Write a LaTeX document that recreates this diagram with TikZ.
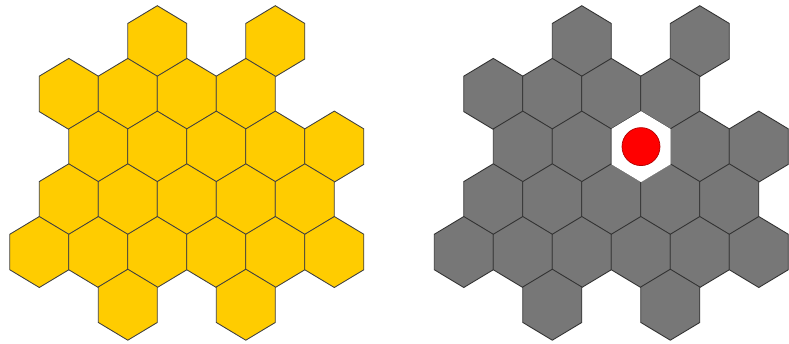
\documentclass[tikz,border=0pt]{standalone}
\usepackage{tikz}
\usetikzlibrary{positioning}
\definecolor{honey}{HTML}{FFCC00}
\definecolor{slate}{HTML}{777777}
\tikzset{
  hexa/.pic={\path[pic actions] (0,-35.5) -- (29.5,-17.75) -- (29.5,17.75)
    -- (0,35.5) -- (-29.5,17.75) -- (-29.5,-17.75) -- cycle;},
  cellY/.style={fill=honey,draw=black!75,line width=0.5pt},   % yellow cell
  cellG/.style={fill=slate,draw=black!80,line width=0.5pt},   % grey cell
  cellE/.style={fill=white,draw=none},                        % emptied cell
  dot/.style={fill=red,draw=red!70!black,line width=0.4pt},
}
% row/column of each cell
\def\cells{0/2,0/4,1/0,1/1,1/2,1/3,2/1,2/2,2/3,2/4,2/5,
  3/0,3/1,3/2,3/3,3/4,4/0,4/1,4/2,4/3,4/4,4/5,5/1,5/3}
\begin{document}
\begin{tikzpicture}[x=0.02cm,y=-0.02cm]
  \useasboundingbox (0,0) rectangle (789,343);
  % both panels
  \foreach \dx/\st in {0/cellY,424.5/cellG}{
    \foreach \r/\k in \cells{
      \pgfmathsetmacro{\cx}{\dx+39.3+59*\k+29.5*mod(\r,2)}
      \pgfmathsetmacro{\cy}{41.2+52.7*\r}
      \pic[\st] at (\cx,\cy) {hexa};
    }
  }
  % removed cell with the red token
  \pic[cellE] at (641,146.6) {hexa};
  \fill[dot] (641,146.6) circle (19);
\end{tikzpicture}
\end{document}
